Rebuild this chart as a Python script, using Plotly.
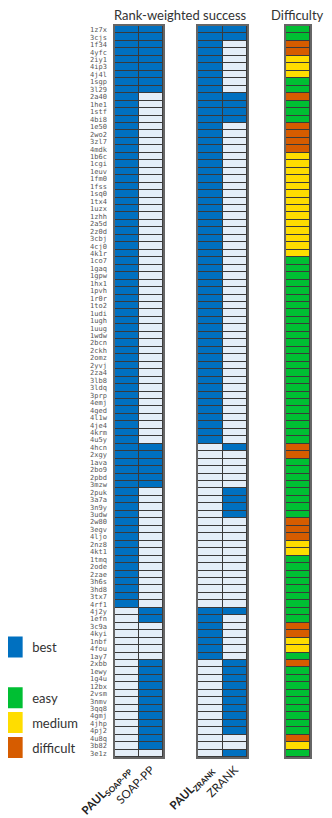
import plotly.graph_objects as go

proteins = ["1z7x","3cjs","1f34","4yfc","2iy1","4ip3","4j4l","1sgp","3l29","2a40",
            "1he1","1stf","4bi8","1e50","2wo2","3zl7","4mdk","1b6c","1cgi","1euv",
            "1fm0","1fss","1sq0","1tx4","1uzx","1zhh","2a5d","2z0d","3cbj","4cj0",
            "4k1r","1co7","1gaq","1gpw","1hx1","1pvh","1r0r","1to2","1udi","1ugh",
            "1uug","1wdw","2bcn","2ckh","2omz","2yvj","2za4","3lb8","3ldq","3prp",
            "4emj","4ged","4l1w","4je4","4krm","4u5y","4hcn","2xgy","1ava","2bo9",
            "2pbd","3mzw","2puk","3a7a","3n9y","3udw","2w80","3egv","4ljo","2nz8",
            "4kt1","1tmq","2ode","2zae","3h6s","3hd8","3tx7","4rf1","4j2y","1efn",
            "3c9a","4kyi","1nbf","4fou","1ay7","2xbb","1ewy","1g4u","12bx","2vsm",
            "3nmv","3qq8","4gmj","4jhp","4pj2","4u8q","3b82","3e1z"]

# 1 = best, 0 = not best
paul_soap = [1,1,1,1,1,1,1,1,1,1, 1,1,1,1,1,1,1,1,1,1, 1,1,1,1,1,1,1,1,1,1,
             1,1,1,1,1,1,1,1,1,1, 1,1,1,1,1,1,1,1,1,1, 1,1,1,1,1,1,1,1,1,1,
             1,1,1,1,1,1,1,1,1,1, 1,1,1,1,1,1,1,1,0,0, 0,0,0,0,0,0,0,0,0,0,
             0,0,0,0,0,0,0,0]
soap_pp = [1,1,1,1,1,1,1,1,1,0, 0,0,0,0,0,0,0,0,0,0, 0,0,0,0,0,0,0,0,0,0,
           0,0,0,0,0,0,0,0,0,0, 0,0,0,0,0,0,0,0,0,0, 0,0,0,0,0,0,1,1,1,1,
           1,1,0,0,0,0,0,0,0,0, 0,0,0,0,0,0,0,0,1,1, 0,0,0,0,0,1,1,1,1,1,
           1,1,1,1,1,1,1,0]
paul_zrank = [1,1,1,1,1,1,1,1,1,1, 1,1,1,1,1,1,1,1,1,1, 1,1,1,1,1,1,1,1,1,1,
              1,1,1,1,1,1,1,1,1,1, 1,1,1,1,1,1,1,1,1,1, 1,1,1,1,1,1,0,0,0,0,
              0,0,0,0,0,0,0,0,0,0, 0,0,0,0,0,0,0,0,1,1, 1,1,1,1,1,0,0,0,0,0,
              0,0,0,0,0,0,0,0]
zrank = [1,1,0,0,0,0,0,0,0,1, 1,1,1,0,0,0,0,0,0,0, 0,0,0,0,0,0,0,0,0,0,
         0,0,0,0,0,0,0,0,0,0, 0,0,0,0,0,0,0,0,0,0, 0,0,0,0,0,0,1,0,0,0,
         0,0,1,1,1,1,0,0,0,0, 0,0,0,0,0,0,0,0,1,0, 0,0,0,0,0,1,1,1,1,1,
         1,1,1,1,1,0,0,1]
difficulty = ["easy","easy","difficult","difficult","medium","medium","medium","easy","easy","difficult",
              "easy","easy","easy","difficult","difficult","difficult","difficult","medium","medium","medium",
              "medium","medium","medium","medium","medium","medium","medium","medium","medium","medium",
              "medium","easy","easy","easy","easy","easy","easy","easy","easy","easy",
              "easy","easy","easy","easy","easy","easy","easy","easy","easy","easy",
              "easy","easy","easy","easy","easy","easy","difficult","difficult","easy","easy",
              "easy","easy","easy","easy","easy","easy","difficult","difficult","difficult","medium",
              "medium","easy","easy","easy","easy","easy","easy","easy","easy","easy",
              "difficult","difficult","medium","medium","easy","difficult","easy","easy","easy","easy",
              "easy","easy","easy","easy","easy","difficult","medium","easy"]

levels = ["easy", "medium", "difficult"]
soap_cols = ["<b>PAUL<sub>SOAP-PP</sub></b>", "SOAP-PP"]
zrank_cols = ["<b>PAUL<sub>ZRANK</sub></b>", "ZRANK"]

BLUE = "#0070C0"
LIGHT = "#E4EEF8"
GREEN = "#00BF33"
YELLOW = "#FFDD00"
ORANGE = "#D65C00"
level_colors = {"easy": GREEN, "medium": YELLOW, "difficult": ORANGE}

bin_scale = [[0, LIGHT], [0.5, LIGHT], [0.5, BLUE], [1, BLUE]]
diff_scale = [[0, GREEN], [1/3, GREEN], [1/3, YELLOW], [2/3, YELLOW], [2/3, ORANGE], [1, ORANGE]]

fig = go.Figure()
fig.add_trace(go.Heatmap(
    x=soap_cols, y=proteins, z=[[a, b] for a, b in zip(paul_soap, soap_pp)],
    colorscale=bin_scale, zmin=0, zmax=1, showscale=False, xgap=1, ygap=1,
    xaxis="x", yaxis="y", hoverinfo="x+y"))
fig.add_trace(go.Heatmap(
    x=zrank_cols, y=proteins, z=[[a, b] for a, b in zip(paul_zrank, zrank)],
    colorscale=bin_scale, zmin=0, zmax=1, showscale=False, xgap=1, ygap=1,
    xaxis="x2", yaxis="y2", hoverinfo="x+y"))
fig.add_trace(go.Heatmap(
    x=["Difficulty"], y=proteins, z=[[levels.index(d)] for d in difficulty],
    colorscale=diff_scale, zmin=0, zmax=2, showscale=False, xgap=1, ygap=1,
    xaxis="x3", yaxis="y3", hoverinfo="y"))

# legend entries
fig.add_trace(go.Scatter(x=[None], y=[None], mode="markers", name="best", showlegend=True,
                         marker=dict(symbol="square", size=16, color=BLUE, line=dict(color=BLUE, width=5)),
                         legend="legend", legendgroup="best", xaxis="x", yaxis="y"))
for lv in levels:
    fig.add_trace(go.Scatter(x=[None], y=[None], mode="markers", name=lv, showlegend=True,
                             marker=dict(symbol="square", size=16, color=level_colors[lv],
                                         line=dict(color=level_colors[lv], width=5)),
                             legend="legend2", legendgroup=lv, xaxis="x", yaxis="y"))

frame = dict(showline=True, mirror=True, linecolor="#666666", linewidth=1.5, showgrid=False,
             zeroline=False, ticks="")
tickfont = dict(family="Lato", size=11.5, color="#222222")
legfont = dict(family="Lato", size=13, color="#333333")
fig.update_layout(
    width=324, height=810, showlegend=True,
    margin=dict(l=107, r=22, t=18, b=61, autoexpand=False),
    plot_bgcolor="#3a3a3a", paper_bgcolor="white",
    xaxis=dict(domain=[0, 0.246], anchor="y", tickangle=-45, tickfont=tickfont, ticklabelstandoff=0, **frame),
    xaxis2=dict(domain=[0.4256, 0.677], anchor="y2", tickangle=-45, tickfont=tickfont, ticklabelstandoff=0, **frame),
    xaxis3=dict(domain=[0.877, 1], anchor="y3", showticklabels=False, **frame),
    yaxis=dict(anchor="x", autorange="reversed", tickmode="array", tickvals=proteins, ticktext=proteins,
               tickfont=dict(family="DejaVu Sans Mono", size=7, color="#555555"), ticklabelstandoff=5, **frame),
    yaxis2=dict(anchor="x2", matches="y", showticklabels=False, **frame),
    yaxis3=dict(anchor="x3", matches="y", showticklabels=False, **frame),
    legend=dict(x=-0.63, xanchor="left", y=0.171, yanchor="top", bgcolor="rgba(0,0,0,0)",
                font=legfont, traceorder="grouped", tracegroupgap=5),
    legend2=dict(x=-0.63, xanchor="left", y=0.1016, yanchor="top", bgcolor="rgba(0,0,0,0)",
                 font=legfont, traceorder="grouped", tracegroupgap=5),
    annotations=[
        dict(text="Rank-weighted success", xref="paper", yref="paper", x=0.338, y=1.0,
             xanchor="center", yanchor="bottom", yshift=1, showarrow=False,
             font=dict(family="Lato", size=13, color="#333333")),
        dict(text="Difficulty", xref="paper", yref="paper", x=0.938, y=1.0,
             xanchor="center", yanchor="bottom", yshift=1, showarrow=False,
             font=dict(family="Lato", size=13, color="#333333")),
    ],
)

fig.write_html("out.html")
